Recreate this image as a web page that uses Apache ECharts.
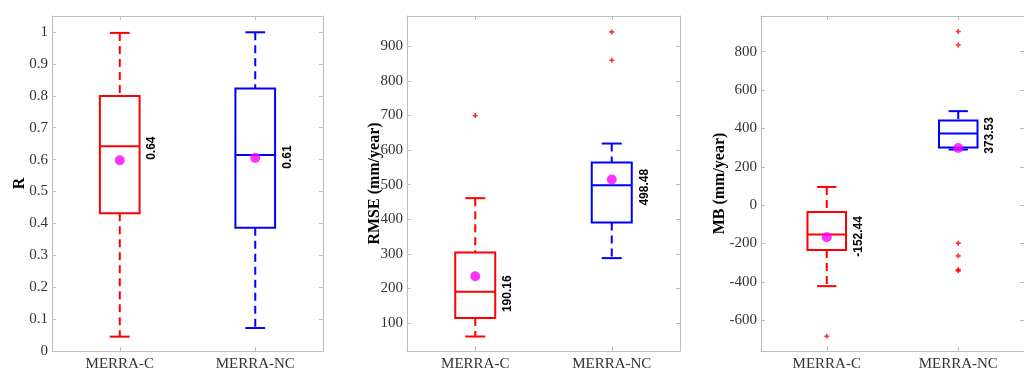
<!DOCTYPE html>
<html>
<head>
<meta charset="utf-8">
<title>MERRA-C vs MERRA-NC</title>
<script src="https://cdn.jsdelivr.net/npm/echarts@6/dist/echarts.min.js"></script>
<style>
  html, body { margin: 0; padding: 0; background: #fff; }
  #chart { width: 1024px; height: 372px; }
</style>
</head>
<body>
<div id="chart"></div>
<script>
// Products compared in every panel
const categories = ['MERRA-C', 'MERRA-NC'];

// Correlation coefficient R
const rLow    = [0.045, 0.072];
const rQ1     = [0.432, 0.386];
const rMedian = [0.642, 0.614];
const rQ3     = [0.799, 0.823];
const rHigh   = [0.997, 0.999];
const rMean   = [0.598, 0.605];
const rOutliers = [[], []];

// RMSE (mm/year)
const rmseLow    = [60.7, 287.5];
const rmseQ1     = [114.4, 390.8];
const rmseMedian = [190.16, 498.48];
const rmseQ3     = [304, 564];
const rmseHigh   = [461, 619];
const rmseMean   = [235, 515];
const rmseOutliers = [[700], [942, 860]];

// Mean bias MB (mm/year)
const mbLow    = [-422, 290];
const mbQ1     = [-234, 300];
const mbMedian = [-152.44, 373.53];
const mbQ3     = [-36, 442];
const mbHigh   = [95, 490];
const mbMean   = [-167, 298];
const mbOutliers = [[-683], [905, 835, -198, -264, -336, -342]];

// Axis ranges and tick labels
const rTicks    = [0, 0.1, 0.2, 0.3, 0.4, 0.5, 0.6, 0.7, 0.8, 0.9, 1];
const rmseTicks = [100, 200, 300, 400, 500, 600, 700, 800, 900];
const mbTicks   = [-600, -400, -200, 0, 200, 400, 600, 800];
const rRange    = [0, 1.05];
const rmseRange = [18.8, 988];
const mbRange   = [-760, 986];

const boxColors = ['#ff0000', '#0000ff'];
const frameColor = '#bdbdbd';
const serif = '"Liberation Serif", "DejaVu Serif", serif';

const panels = [
  { name: 'R', low: rLow, q1: rQ1, med: rMedian, q3: rQ3, high: rHigh, mean: rMean,
    outliers: rOutliers, ticks: rTicks, range: rRange, digits: 2, nameGap: 24,
    grid: { left: 52, top: 16, width: 271, height: 337 } },
  { name: 'RMSE (mm/year)', low: rmseLow, q1: rmseQ1, med: rmseMedian, q3: rmseQ3, high: rmseHigh,
    mean: rmseMean, outliers: rmseOutliers, ticks: rmseTicks, range: rmseRange, digits: 2, nameGap: 24,
    grid: { left: 407, top: 16, width: 273, height: 337 } },
  { name: 'MB (mm/year)', low: mbLow, q1: mbQ1, med: mbMedian, q3: mbQ3, high: mbHigh,
    mean: mbMean, outliers: mbOutliers, ticks: mbTicks, range: mbRange, digits: 2, nameGap: 33,
    grid: { left: 761, top: 16, width: 273, height: 337 } }
];

// Box with dashed whiskers, solid caps and a median line
function renderBox(params, api) {
  const x = api.value(0);
  const lo = api.coord([x, api.value(1)]);
  const q1 = api.coord([x, api.value(2)]);
  const md = api.coord([x, api.value(3)]);
  const q3 = api.coord([x, api.value(4)]);
  const hi = api.coord([x, api.value(5)]);
  const bw = api.size([1, 0])[0] * 0.293;
  const cw = bw / 2;
  const cx = md[0];
  const color = boxColors[params.dataIndex];
  const solid = { stroke: color, lineWidth: 2, fill: null };
  const dashed = { stroke: color, lineWidth: 2, lineDash: [8, 5], fill: null };
  return {
    type: 'group',
    children: [
      { type: 'line', shape: { x1: cx, y1: hi[1], x2: cx, y2: q3[1] }, style: dashed },
      { type: 'line', shape: { x1: cx, y1: q1[1], x2: cx, y2: lo[1] }, style: dashed },
      { type: 'line', shape: { x1: cx - cw / 2, y1: hi[1], x2: cx + cw / 2, y2: hi[1] }, style: solid },
      { type: 'line', shape: { x1: cx - cw / 2, y1: lo[1], x2: cx + cw / 2, y2: lo[1] }, style: solid },
      { type: 'rect', shape: { x: cx - bw / 2, y: q3[1], width: bw, height: q1[1] - q3[1] }, style: solid },
      { type: 'line', shape: { x1: cx - bw / 2, y1: md[1], x2: cx + bw / 2, y2: md[1] }, style: solid }
    ]
  };
}

// Median value written vertically (bottom to top) beside each box
function renderMedianLabel(params, api) {
  const x = api.value(0);
  const md = api.coord([x, api.value(1)]);
  const bw = api.size([1, 0])[0] * 0.293;
  return {
    type: 'text',
    x: md[0] + bw / 2 + 12.5,
    y: md[1] + 2,
    rotation: Math.PI / 2,
    style: {
      text: api.value(2),
      x: 0, y: 0,
      align: 'center',
      verticalAlign: 'middle',
      fill: '#000',
      font: 'bold 12px "Liberation Sans", Arial, sans-serif'
    }
  };
}

const plusSymbol = 'path://M2,0H4V2H6V4H4V6H2V4H0V2H2Z';

const grid = [], xAxis = [], yAxis = [], series = [];

panels.forEach((p, i) => {
  grid.push(Object.assign({ containLabel: false }, p.grid));

  const tickStyle = { show: true, inside: true, length: 4, lineStyle: { color: frameColor, width: 1 } };
  const lineStyle = { show: true, onZero: false, lineStyle: { color: frameColor, width: 1 } };

  // bottom and top category axes
  xAxis.push({
    type: 'category', gridIndex: i, data: categories, position: 'bottom',
    axisLine: lineStyle,
    axisTick: Object.assign({ alignWithLabel: true }, tickStyle),
    axisLabel: { color: '#333', fontFamily: serif, fontSize: 15, margin: 6 },
    splitLine: { show: false }
  });
  xAxis.push({
    type: 'category', gridIndex: i, data: categories, position: 'top',
    axisLine: lineStyle,
    axisTick: Object.assign({ alignWithLabel: true }, tickStyle),
    axisLabel: { show: false },
    splitLine: { show: false }
  });

  // left and right value axes
  yAxis.push({
    type: 'value', gridIndex: i, position: 'left',
    min: p.range[0], max: p.range[1],
    name: p.name, nameLocation: 'middle', nameGap: p.nameGap, nameMoveOverlap: false,
    nameTextStyle: { color: '#000', fontFamily: serif, fontSize: 16, fontWeight: 'bold' },
    axisLine: lineStyle,
    axisTick: Object.assign({ customValues: p.ticks }, tickStyle),
    axisLabel: { customValues: p.ticks, color: '#333', fontFamily: serif, fontSize: 15, margin: 4 },
    splitLine: { show: false }
  });
  yAxis.push({
    type: 'value', gridIndex: i, position: 'right',
    min: p.range[0], max: p.range[1],
    axisLine: lineStyle,
    axisTick: Object.assign({ customValues: p.ticks }, tickStyle),
    axisLabel: { show: false },
    splitLine: { show: false }
  });

  const xi = i * 2, yi = i * 2;

  series.push({
    type: 'custom', xAxisIndex: xi, yAxisIndex: yi, z: 2,
    renderItem: renderBox,
    encode: { x: 0, y: [1, 2, 3, 4, 5] },
    data: categories.map((c, k) => [k, p.low[k], p.q1[k], p.med[k], p.q3[k], p.high[k]]),
    silent: true
  });

  const outlierPts = [];
  p.outliers.forEach((vals, k) => vals.forEach(v => outlierPts.push([k, v])));
  series.push({
    type: 'scatter', xAxisIndex: xi, yAxisIndex: yi, z: 3,
    symbol: plusSymbol, symbolSize: 5,
    itemStyle: { color: '#ff0000' },
    data: outlierPts, silent: true
  });

  series.push({
    type: 'scatter', xAxisIndex: xi, yAxisIndex: yi, z: 4,
    symbol: 'circle', symbolSize: 10,
    itemStyle: { color: '#ff00ff' },
    data: categories.map((c, k) => [k, p.mean[k]]), silent: true
  });

  series.push({
    type: 'custom', xAxisIndex: xi, yAxisIndex: yi, z: 5,
    renderItem: renderMedianLabel,
    encode: { x: 0, y: 1 },
    data: categories.map((c, k) => [k, p.med[k], p.med[k].toFixed(p.digits)]),
    silent: true
  });
});

const chart = echarts.init(document.getElementById('chart'), null, { renderer: 'canvas' });
chart.setOption({
  backgroundColor: '#ffffff',
  animation: false,
  grid, xAxis, yAxis, series
});
</script>
</body>
</html>
